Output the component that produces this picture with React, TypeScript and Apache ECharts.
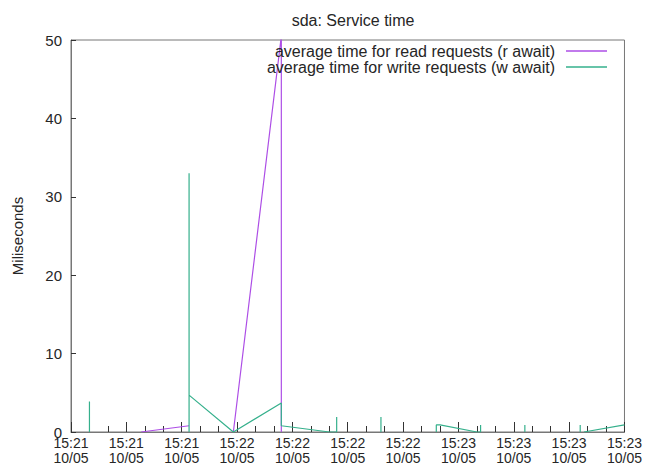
import React, { useEffect, useRef } from "react";
import * as echarts from "echarts";

const chartTitle = "sda: Service time";
const yAxisName = "Miliseconds";
const dateLabel = "10/05";
const axisStart = "15:21:15";
const axisEnd = "15:23:45";
const tickSeconds = 15;
const yTicks = [0, 10, 20, 30, 40, 50];

const readName = "average time for read requests (r await)";
const writeName = "average time for write requests (w await)";

// null value = line break
const readTimes = ["15:21:34", "15:21:47", "15:21:47", "15:21:59", "15:22:12", "15:22:12"];
const readValues: (number | null)[] = [0, 0.8, null, 0, 50.5, 0];

const writeTimes = [
  "15:21:20", "15:21:20", "15:21:20",
  "15:21:47", "15:21:47", "15:21:47", "15:21:59", "15:22:12", "15:22:12", "15:22:25", "15:22:27", "15:22:27", "15:22:27",
  "15:22:39", "15:22:39", "15:22:39",
  "15:22:54", "15:22:54", "15:22:55", "15:23:05", "15:23:06", "15:23:06", "15:23:06",
  "15:23:18", "15:23:18", "15:23:18",
  "15:23:33", "15:23:33", "15:23:33",
  "15:23:34", "15:23:45",
];
const writeValues: (number | null)[] = [
  0, 3.9, null,
  0, 33, 4.7, 0, 3.7, 0.8, 0, 0, 1.9, null,
  0, 1.9, null,
  0, 0.9, 0.9, 0, 0, 0.9, null,
  0, 0.9, null,
  0, 0.9, null,
  0, 0.9,
];

const toSec = (s: string) => {
  const [h, m, sec] = s.split(":").map(Number);
  return h * 3600 + m * 60 + sec;
};

const buildData = (times: string[], values: (number | null)[]) =>
  times.map((t, i) => [toSec(t), values[i] === null ? "-" : values[i]]);

const FONT = "Liberation Sans, Arial, sans-serif";
const TEXT = "#262626";

export default function App() {
  const ref = useRef<HTMLDivElement>(null);
  useEffect(() => {
    if (!ref.current) return;
    const chart = echarts.init(ref.current, null, { renderer: "svg" });
    const pad = (n: number) => (n < 10 ? "0" + n : "" + n);
    const legendCommon = {
      orient: "vertical",
      align: "right",
      right: 38,
      padding: 0,
      icon: "rect",
      itemWidth: 41,
      itemHeight: 1.5,
      selectedMode: false,
      textStyle: { fontSize: 16, lineHeight: 16, color: TEXT, fontFamily: FONT, padding: [0, 6, 0, 0] },
    };
    chart.setOption({
      animation: false,
      backgroundColor: "#ffffff",
      title: {
        text: chartTitle,
        left: 348,
        textAlign: "center",
        top: 7,
        textStyle: { fontSize: 16, lineHeight: 16, fontWeight: "normal", color: TEXT, fontFamily: FONT },
      },
      legend: [
        { ...legendCommon, data: [readName], top: 43 },
        { ...legendCommon, data: [writeName], top: 59 },
      ],
      grid: {
        left: 71,
        right: 20,
        top: 40,
        bottom: 40,
        show: true,
        borderColor: "#777",
        borderWidth: 1,
        backgroundColor: "transparent",
      },
      xAxis: {
        type: "value",
        min: toSec(axisStart),
        max: toSec(axisEnd),
        interval: tickSeconds,
        axisLine: { show: true, onZero: false, lineStyle: { color: "#777", width: 1 } },
        axisTick: { show: true, inside: true, length: 10, lineStyle: { color: "#333" } },
        minorTick: { show: true, splitNumber: 3, length: 6, lineStyle: { color: "#333" } },
        splitLine: { show: false },
        axisLabel: {
          show: true,
          margin: 3,
          fontSize: 14,
          lineHeight: 15,
          color: TEXT,
          fontFamily: FONT,
          hideOverlap: false,
          showMinLabel: true,
          showMaxLabel: true,
          formatter: (v: number) => {
            const h = Math.floor(v / 3600);
            const m = Math.floor((v % 3600) / 60);
            return `${h}:${pad(m)}\n${dateLabel}`;
          },
        },
      },
      yAxis: {
        type: "value",
        min: yTicks[0],
        max: yTicks[yTicks.length - 1],
        interval: yTicks[1] - yTicks[0],
        name: yAxisName,
        nameLocation: "middle",
        nameGap: 46,
        nameTextStyle: { fontSize: 15, color: TEXT, fontFamily: FONT },
        axisLine: { show: true, lineStyle: { color: "#777", width: 1 } },
        axisTick: { show: true, inside: true, length: 5, lineStyle: { color: "#333" } },
        splitLine: { show: false },
        axisLabel: { margin: 9, fontSize: 15, color: TEXT, fontFamily: FONT },
      },
      series: [
        {
          name: readName,
          type: "line",
          color: "#ad4ee6",
          showSymbol: false,
          clip: true,
          connectNulls: false,
          lineStyle: { width: 1.2, color: "#ad4ee6" },
          data: buildData(readTimes, readValues),
        },
        {
          name: writeName,
          type: "line",
          color: "#35b08c",
          showSymbol: false,
          clip: true,
          connectNulls: false,
          lineStyle: { width: 1.2, color: "#35b08c" },
          data: buildData(writeTimes, writeValues),
        },
      ],
    });
    return () => chart.dispose();
  }, []);
  return (
    <div
      ref={ref}
      style={{ position: "absolute", left: 0, top: 0, width: 645, height: 472 }}
    />
  );
}
